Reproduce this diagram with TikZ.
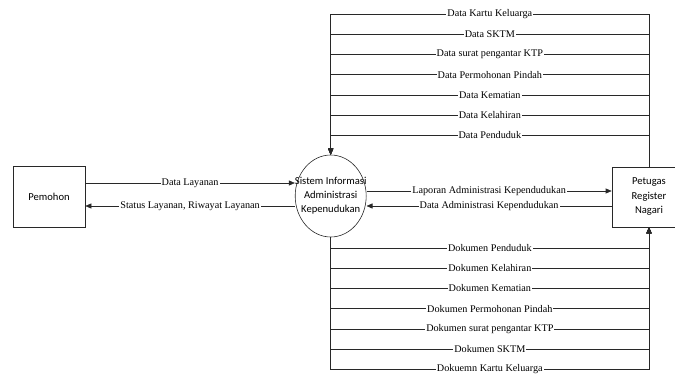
\documentclass[tikz,border=0pt]{standalone}
\usepackage{fontspec}
\setmainfont{Liberation Serif}
\newfontfamily\boxfont{Carlito}
\usepackage{tikz}
\usetikzlibrary{arrows.meta,shapes.geometric}
\definecolor{lineclr}{RGB}{40, 40, 40}

\begin{document}
\begin{tikzpicture}[x=1pt,y=-1pt,>={Triangle[length=6pt,width=5pt]},
        flow/.style={draw=lineclr,line width=0.6pt},
        lbl/.style={fill=white,inner sep=1pt,font=\fontsize{10.2}{11}\selectfont},
        entity/.style={draw=lineclr,line width=0.6pt,align=center,font=\boxfont\fontsize{10.6}{14.5}\selectfont,minimum width=72pt,minimum height=61pt},
        process/.style={ellipse,draw=lineclr,line width=0.6pt,inner sep=0pt,minimum width=71pt,minimum height=82pt}]
                \useasboundingbox (0,0) rectangle (675,374);
                \node[entity] (pem) at (49,196.5) {Pemohon};
                \node[process,label={[align=center,font=\boxfont\fontsize{10.6}{14}\selectfont]center:Sistem Informasi\\Administrasi\\Kepenudukan}] (sia) at (330.7,196) {};
                \node[entity,minimum width=74pt,minimum height=60pt] (reg) at (649,197) {Petugas\\Register\\Nagari};
                \draw[flow,->] (pem.east |- 0,183) -- node[lbl]{Data Layanan} (sia.west |- 0,183);
                \draw[flow,->] (sia.west |- 0,206) -- node[lbl]{Status Layanan, Riwayat Layanan} (pem.east |- 0,206);
                \draw[flow,->] (sia.east |- 0,191) -- node[lbl]{Laporan Administrasi Kependudukan} (reg.west |- 0,191);
                \draw[flow,->] (reg.west |- 0,206) -- node[lbl]{Data Administrasi Kependudukan} (sia.east |- 0,206);
                % data from the register officer
                \foreach \y/\txt in {14/Data Kartu Keluarga, 34.3/Data SKTM, 54.5/Data surat pengantar KTP, 74.8/Data Permohonan Pindah, 95/Data Kematian, 115.3/Data Kelahiran, 135.5/Data Penduduk}
                    \draw[flow,->] (reg.north) |- node[lbl,pos=0.75]{\txt} (sia.north |- 0,\y) -- (sia.north);
                % documents back to the register officer
                \foreach \y/\txt in {248.5/Dokumen Penduduk, 268.5/Dokumen Kelahiran, 288.5/Dokumen Kematian, 308.7/Dokumen Permohonan Pindah, 328.8/Dokumen surat pengantar KTP, 349/Dokumen SKTM, 369/Dokuemn Kartu Keluarga}
                    \draw[flow,->] (sia.south) |- node[lbl,pos=0.75]{\txt} (reg.south |- 0,\y) -- (reg.south);
            \end{tikzpicture}
\end{document}
